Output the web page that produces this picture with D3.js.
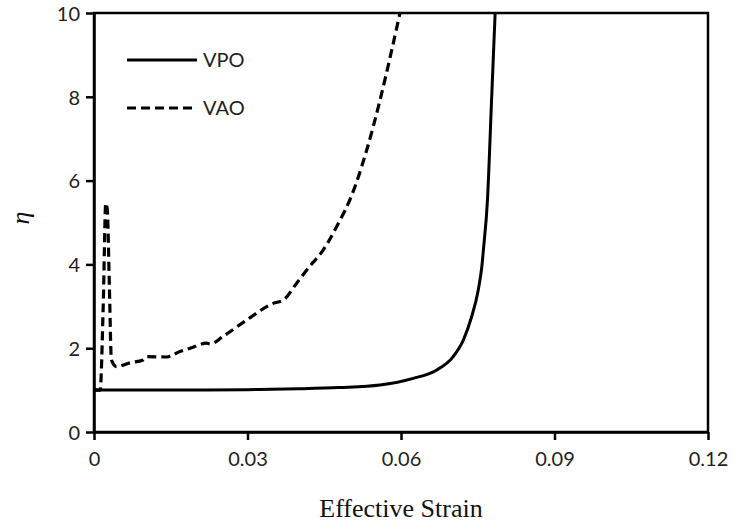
<!DOCTYPE html>
<html>
<head>
<meta charset="utf-8">
<script src="https://cdn.jsdelivr.net/npm/d3@7"></script>
<style>
  html, body { margin: 0; padding: 0; background: #fff; }
  svg { display: block; }
</style>
</head>
<body>
<svg id="chart" width="733" height="527"></svg>
<script>
// Effective strain vs. eta for the two models
const vpoStrain = [0, 0.01, 0.02, 0.03, 0.04, 0.048, 0.0559, 0.0624, 0.067, 0.0702, 0.0722, 0.0738, 0.0751, 0.0758, 0.0761, 0.0769, 0.0777, 0.0784];
const vpoEta    = [1, 1.0, 1.0, 1.01, 1.03, 1.06, 1.12, 1.28, 1.48, 1.8, 2.2, 2.75, 3.39, 3.95, 4.34, 5.54, 7.92, 10];

const vaoStrain = [0, 0.0012, 0.0018, 0.0023, 0.0026, 0.0030, 0.0034, 0.0044, 0.0070, 0.0096, 0.0103, 0.0142, 0.0168, 0.0188, 0.0220, 0.0227, 0.0253, 0.0298, 0.0350, 0.0370, 0.0396, 0.0429, 0.0438, 0.0481, 0.0500, 0.0533, 0.0559, 0.0582, 0.0598];
const vaoEta    = [1, 1.0, 3.0, 5.46, 5.3, 3.5, 1.72, 1.56, 1.65, 1.72, 1.80, 1.79, 1.92, 2.0, 2.12, 2.10, 2.29, 2.67, 3.07, 3.15, 3.55, 4.06, 4.18, 5.06, 5.54, 6.73, 7.92, 9.12, 10];

const xTicks = [0, 0.03, 0.06, 0.09, 0.12];
const yTicks = [0, 2, 4, 6, 8, 10];
const seriesNames = ["VPO", "VAO"];

const svg = d3.select("#chart");
const plotLeft = 94, plotRight = 708, plotTop = 13, plotBottom = 432;

const x = d3.scaleLinear().domain([0, 0.12]).range([plotLeft, plotRight]);
const y = d3.scaleLinear().domain([0, 10]).range([plotBottom, plotTop]);

const axisColor = "#000";
const tickFont = "'Lato', 'Liberation Sans', sans-serif";

// Frame
svg.append("rect")
  .attr("x", plotLeft).attr("y", plotTop)
  .attr("width", plotRight - plotLeft).attr("height", plotBottom - plotTop)
  .attr("fill", "none").attr("stroke", axisColor).attr("stroke-width", 2.5);

// X axis
const xAxis = svg.append("g")
  .attr("transform", `translate(0,${plotBottom})`)
  .call(d3.axisBottom(x).tickValues(xTicks).tickSize(8).tickSizeOuter(0)
    .tickFormat(d => d === 0 ? "0" : d3.format(".2f")(d)));
xAxis.select(".domain").attr("stroke-width", 2.5);
xAxis.selectAll(".tick line").attr("stroke-width", 2.5);
xAxis.selectAll(".tick text")
  .attr("y", 20).attr("dy", "0.71em")
  .attr("font-family", tickFont).attr("font-size", 20).attr("fill", "#222");

// Y axis
const yAxis = svg.append("g")
  .attr("transform", `translate(${plotLeft},0)`)
  .call(d3.axisLeft(y).tickValues(yTicks).tickSize(8).tickSizeOuter(0));
yAxis.select(".domain").attr("stroke-width", 2.5);
yAxis.selectAll(".tick line").attr("stroke-width", 2.5);
yAxis.selectAll(".tick text")
  .attr("x", -14).attr("dy", "0.36em")
  .attr("font-family", tickFont).attr("font-size", 20).attr("fill", "#222");

// Axis titles
svg.append("text")
  .attr("x", (plotLeft + plotRight) / 2).attr("y", 517)
  .attr("text-anchor", "middle")
  .attr("font-family", "'Liberation Serif', 'Times New Roman', serif")
  .attr("font-size", 26).attr("fill", "#111")
  .text("Effective Strain");

svg.append("text")
  .attr("transform", "translate(29,218) rotate(-90)")
  .attr("text-anchor", "middle")
  .attr("font-family", "'Liberation Serif', 'Times New Roman', serif")
  .attr("font-style", "italic")
  .attr("font-size", 26).attr("fill", "#111")
  .text("η");

// Curves
const line = d3.line()
  .x(d => x(d[0])).y(d => y(d[1]))
  .curve(d3.curveMonotoneX);

const plot = svg.append("g");

plot.append("path")
  .datum(vpoStrain.map((s, i) => [s, vpoEta[i]]))
  .attr("d", line)
  .attr("fill", "none").attr("stroke", "#000").attr("stroke-width", 3);

plot.append("path")
  .datum(vaoStrain.map((s, i) => [s, vaoEta[i]]))
  .attr("d", line)
  .attr("fill", "none").attr("stroke", "#000").attr("stroke-width", 3.2)
  .attr("stroke-dasharray", "9,5");

// Legend
const legend = svg.append("g");
const legendRows = [
  { name: seriesNames[0], dash: null, yPos: 60 },
  { name: seriesNames[1], dash: "9,5", yPos: 108 }
];
legendRows.forEach(r => {
  legend.append("line")
    .attr("x1", 127).attr("x2", 197)
    .attr("y1", r.yPos).attr("y2", r.yPos)
    .attr("stroke", "#000").attr("stroke-width", 3)
    .attr("stroke-dasharray", r.dash);
  legend.append("text")
    .attr("x", 203).attr("y", r.yPos).attr("dy", "0.35em")
    .attr("font-family", tickFont).attr("font-size", 20).attr("fill", "#222")
    .text(r.name);
});
</script>
</body>
</html>
